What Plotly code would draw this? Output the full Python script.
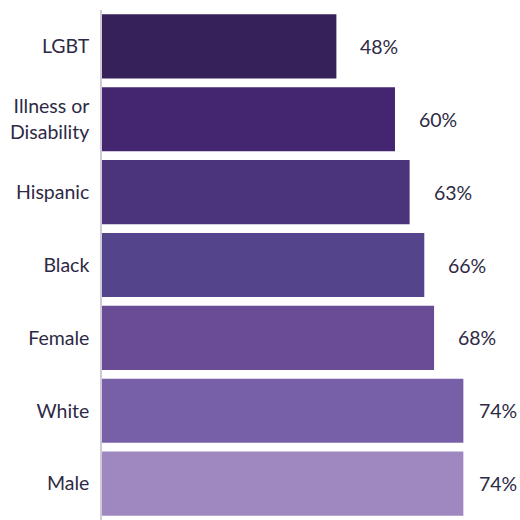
import plotly.graph_objects as go

# Share of respondents per group
groups = ["LGBT", "Illness or<br>Disability", "Hispanic", "Black", "Female", "White", "Male"]
values = [48, 60, 63, 66, 68, 74, 74]
bar_colors = ["#36215a", "#43266f", "#4c347c", "#54448b", "#6a4c96", "#7860a8", "#9f87bf"]

text_color = "#2e2a45"
font_family = "Lato, 'Open Sans', sans-serif"
label_size = 19.5
x_max = 85.6

fig = go.Figure()
fig.add_trace(go.Bar(
    x=values,
    y=groups,
    orientation="h",
    marker=dict(color=bar_colors, line=dict(width=0)),
    hoverinfo="skip",
))

# Value labels to the right of each bar; pulled in closer for the longest bars
for g, v in zip(groups, values):
    gap = 14 if v > 72 else 22
    fig.add_annotation(
        x=v, y=g, text=f"{v}%", showarrow=False,
        xanchor="left", yanchor="middle", xshift=gap,
        font=dict(family=font_family, size=label_size, color=text_color),
    )

fig.update_layout(
    width=520, height=520,
    margin=dict(l=102, r=0, t=10, b=0),
    paper_bgcolor="white", plot_bgcolor="white",
    showlegend=False,
    bargap=0.12,
    font=dict(family=font_family, size=label_size, color=text_color),
)
fig.update_xaxes(range=[0, x_max], visible=False, showgrid=False, zeroline=False)
fig.update_yaxes(
    autorange="reversed",
    showline=True, linecolor="#cfcad6", linewidth=1.5,
    ticks="", ticklabelstandoff=7, showgrid=False, zeroline=False,
    tickfont=dict(family=font_family, size=label_size, color=text_color),
)

fig.write_html("out.html")
